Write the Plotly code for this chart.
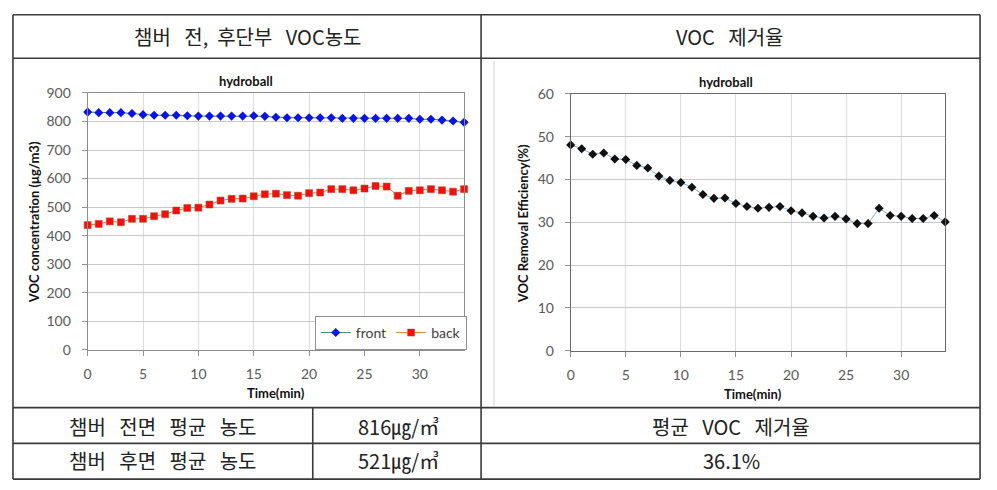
import plotly.graph_objects as go

W, H = 997, 490

# ---- data ----
time_min = list(range(35))
front = [833, 831, 831, 831, 828, 824, 822, 822, 822, 820, 819, 819, 819, 819, 819,
         820, 818, 815, 813, 813, 813, 813, 813, 811, 811, 811, 811, 811, 811, 811,
         808, 808, 805, 802, 797]
back = [437, 441, 450, 447, 459, 459, 468, 475, 488, 497, 498, 509, 523, 529, 530,
        538, 545, 547, 542, 540, 549, 551, 563, 563, 559, 565, 574, 572, 540, 557,
        559, 563, 559, 554, 563]
efficiency = [48.1, 47.2, 45.9, 46.2, 44.8, 44.7, 43.3, 42.7, 40.8, 39.8, 39.3, 38.2,
              36.5, 35.6, 35.7, 34.4, 33.7, 33.3, 33.5, 33.7, 32.7, 32.2, 31.4, 31.0,
              31.4, 30.8, 29.7, 29.7, 33.3, 31.6, 31.4, 30.9, 30.9, 31.6, 30.1]

header_left = "챔버 전, 후단부 VOC농도"
header_right = "VOC 제거율"
row_labels = ["챔버 전면 평균 농도", "챔버 후면 평균 농도"]
row_values = ["816㎍/㎥", "521㎍/㎥"]
avg_label = "평균 VOC 제거율"
avg_value = "36.1%"


def wide(s, n=3):
    # widen word gaps like the original serif table font
    return s.replace(", ", ",\u00a0\u00a0").replace(" ", "\u00a0" * n)


def px(x):
    return x / W


def py(y):
    return 1 - y / H


fig = go.Figure()

fig.add_trace(go.Scatter(
    x=time_min, y=front, name="front", mode="lines+markers",
    line=dict(color="#3f7f8a", width=1),
    marker=dict(symbol="diamond", size=7, color="#0a14e6"),
    cliponaxis=False, xaxis="x", yaxis="y"))
fig.add_trace(go.Scatter(
    x=time_min, y=back, name="back", mode="lines+markers",
    line=dict(color="#d08a3c", width=1),
    marker=dict(symbol="square", size=7, color="#f01010",
                line=dict(color="#c04020", width=0.5)),
    cliponaxis=False, xaxis="x", yaxis="y"))
fig.add_trace(go.Scatter(
    x=time_min, y=efficiency, name="efficiency", mode="lines+markers",
    line=dict(color="#86aecb", width=1),
    marker=dict(symbol="diamond", size=7, color="#111111"),
    cliponaxis=False, showlegend=False, xaxis="x2", yaxis="y2"))

tickfont = dict(family="Lato", size=14, color="#595959")
common_x = dict(range=[0, 34], dtick=5, tick0=0, showgrid=True, gridcolor="#dcdcdc",
                gridwidth=1, zeroline=False, showline=True, mirror=True,
                ticks="outside", ticklen=5, tickcolor="#909090", tickfont=tickfont,
                ticklabelstandoff=6)
common_y = dict(showgrid=True, gridcolor="#c8c8c8", gridwidth=1, zeroline=False,
                showline=True, mirror=True, ticks="outside", ticklen=5,
                tickcolor="#909090", tickfont=tickfont, ticklabelstandoff=8)

fig.update_layout(
    width=W, height=H, margin=dict(l=0, r=0, t=0, b=0),
    paper_bgcolor="white", plot_bgcolor="white",
    xaxis=dict(domain=[px(84), px(462)], anchor="y", linecolor="#8c8c8c", **common_x),
    yaxis=dict(domain=[py(353), py(87)], anchor="x", range=[0, 900], dtick=100,
               linecolor="#8c8c8c", **common_y),
    xaxis2=dict(domain=[px(569), px(945)], anchor="y2", linecolor="#6a6a6a", **common_x),
    yaxis2=dict(domain=[py(354), py(88)], anchor="x2", range=[0, 60], dtick=10,
                linecolor="#6a6a6a", **common_y),
    legend=dict(orientation="h", x=px(312), y=py(318), xanchor="left", yanchor="top",
                bgcolor="white", bordercolor="#909090", borderwidth=1,
                font=dict(family="Lato", size=14, color="#404040"),
                tracegroupgap=0, itemwidth=30),
    showlegend=True,
)

ann = []
bold = dict(family="Lato", size=13, color="#111111")
# chart titles
ann.append(dict(x=px(243), y=py(75), text="<b>hydroball</b>", font=bold))
ann.append(dict(x=px(725), y=py(76), text="<b>hydroball</b>", font=bold))
# axis titles
ann.append(dict(x=px(273), y=py(398), text="<b>Time(min)</b>", font=bold))
ann.append(dict(x=px(752), y=py(399), text="<b>Time(min)</b>", font=bold))
ann.append(dict(x=px(30), y=py(221), text="<b>VOC concentration (μg/m3)</b>",
                font=bold, textangle=-90))
ann.append(dict(x=px(521), y=py(222), text="<b>VOC Removal Efficiency(%)</b>",
                font=bold, textangle=-90))

kfont = dict(family="Noto Sans CJK KR", size=20, color="#222222")
ann.append(dict(x=px(244), y=py(28), text=wide(header_left), font=kfont))
ann.append(dict(x=px(729), y=py(28), text=wide(header_right), font=kfont))
ann.append(dict(x=px(160), y=py(432), text=wide(row_labels[0]), font=kfont))
ann.append(dict(x=px(160), y=py(468), text=wide(row_labels[1]), font=kfont))
ann.append(dict(x=px(396), y=py(432), text=row_values[0], font=kfont))
ann.append(dict(x=px(396), y=py(468), text=row_values[1], font=kfont))
ann.append(dict(x=px(730), y=py(432), text=wide(avg_label), font=kfont))
ann.append(dict(x=px(730), y=py(468), text=avg_value, font=kfont))

for a in ann:
    a.update(xref="paper", yref="paper", showarrow=False, xanchor="center", yanchor="middle")
fig.update_layout(annotations=ann)

shapes = []
lc = dict(color="#3a3a3a", width=1.6)


def hline(y, x0, x1, line=lc):
    shapes.append(dict(type="line", xref="paper", yref="paper",
                       x0=px(x0), x1=px(x1), y0=py(y), y1=py(y), line=line))


def vline(x, y0, y1, line=lc):
    shapes.append(dict(type="line", xref="paper", yref="paper",
                       x0=px(x), x1=px(x), y0=py(y0), y1=py(y1), line=line))


hline(6, 9, 980)
hline(51, 9, 980)
hline(413, 9, 980)
hline(450, 9, 980)
hline(487, 9, 980)
vline(9, 6, 487)
vline(980, 6, 487)
vline(479, 6, 487)
vline(310, 413, 487)
vline(492, 54, 411, line=dict(color="#d0d0d0", width=1))

fig.update_layout(shapes=shapes)

fig.write_html("out.html", config={"displayModeBar": False},
               post_script="document.body.style.margin='0px';document.body.style.overflow='hidden';")
